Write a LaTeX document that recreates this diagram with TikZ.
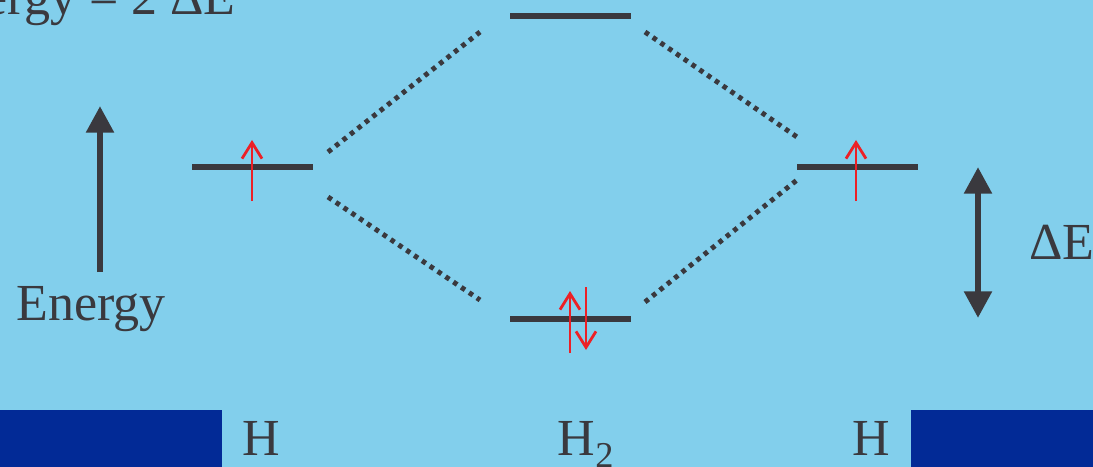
\documentclass[tikz,border=0pt]{standalone}
\usepackage{fontspec}
\setmainfont{Liberation Serif}
\usetikzlibrary{arrows.meta}

\definecolor{skybg}{RGB}{130,207,236}
\definecolor{inkgray}{RGB}{58,57,62}
\definecolor{spinred}{RGB}{236,32,38}
\definecolor{barblue}{RGB}{2,42,150}

\begin{document}
\begin{tikzpicture}[x=0.75pt, y=-0.75pt,
  level/.style={fill=inkgray, minimum width=90.75pt, minimum height=3.9pt, inner sep=0pt},
  lbl/.style={text=inkgray, font=\fontsize{39}{47}\selectfont, inner sep=0pt, anchor=base},
  corr/.style={draw=inkgray, line width=3.7pt, dash pattern=on 3.4pt off 3.7pt},
  spin/.style={draw=spinred, line width=2.1pt, -{Straight Barb[length=12pt, width=15pt]}},
  axis/.style={draw=inkgray, line width=4.8pt, -{Triangle[length=20pt, width=20pt]}}]
  \clip (0,0) rectangle (1093,467);
  \fill[skybg] (0,0) rectangle (1093,467);
  \fill[barblue] (0,410) rectangle (222,467);
  \fill[barblue] (911,410) rectangle (1093,467);

  % title, cut off at the edge
  \node[lbl, anchor=base east] (title) at (236,15) {energy = 2 ΔE};

  % energy levels
  \node[level] (hl) at (252.5,167) {};
  \node[level] (hr) at (857,167) {};
  \node[level] (anti) at (570,16) {};
  \node[level] (bond) at (570,319) {};

  % correlation lines
  \coordinate (c1a) at (328,152);  \coordinate (c1b) at (480,32);
  \coordinate (c2a) at (328,197);  \coordinate (c2b) at (480,300);
  \coordinate (c3a) at (645,32);   \coordinate (c3b) at (797,137);
  \coordinate (c4a) at (645,302);  \coordinate (c4b) at (797,180);
  \draw[corr] (c1a) -- (c1b);
  \draw[corr] (c2a) -- (c2b);
  \draw[corr] (c3a) -- (c3b);
  \draw[corr] (c4a) -- (c4b);

  % electrons
  \coordinate (e1a) at (252,201);  \coordinate (e1b) at (252,140);
  \coordinate (e2a) at (856,201);  \coordinate (e2b) at (856,140);
  \coordinate (e3a) at (570,353);  \coordinate (e3b) at (570,291);
  \coordinate (e4a) at (586,287);  \coordinate (e4b) at (586,350);
  \draw[spin] (e1a) -- (e1b);
  \draw[spin] (e2a) -- (e2b);
  \draw[spin] (e3a) -- (e3b);
  \draw[spin] (e4a) -- (e4b);

  % energy axis
  \node[lbl] (energy) at (91,320) {Energy};
  \coordinate (axb) at (100,272);
  \coordinate (axt) at (100,106);
  \draw[axis] (axb) -- (axt);

  % gap
  \coordinate (gt) at (978,167);
  \coordinate (gb) at (978,318);
  \draw[axis, {Triangle[length=20pt, width=20pt]}-{Triangle[length=20pt, width=20pt]}] (gt) -- (gb);
  \node[lbl, anchor=base west] (gap) at (1029,259) {ΔE};

  % labels
  \node[lbl] (hlab) at (261,455) {H};
  \node[lbl] (h2lab) at (586,455) {H\textsubscript{2}};
  \node[lbl] (hrlab) at (871,455) {H};
\end{tikzpicture}
\end{document}
